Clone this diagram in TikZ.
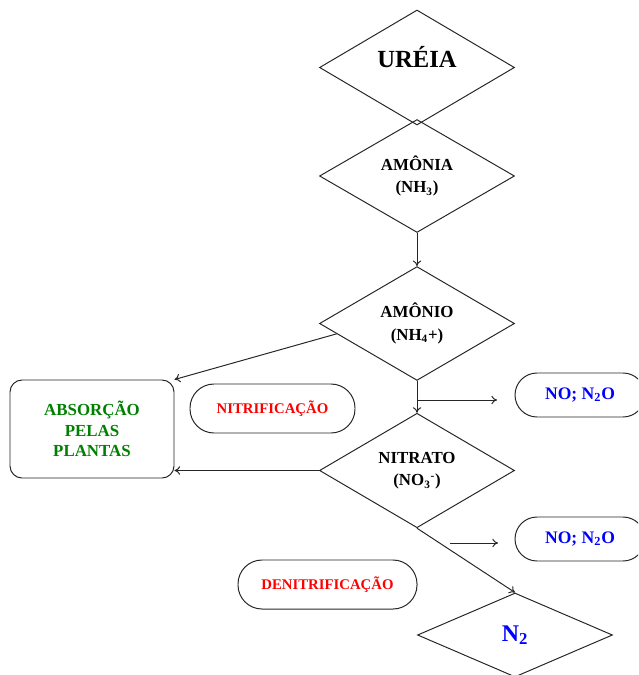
\documentclass[tikz,border=0pt]{standalone}
\usepackage{fontspec}
\setmainfont{Liberation Serif}
\usetikzlibrary{shapes.geometric,calc,arrows.meta}
\definecolor{verde}{RGB}{0,128,0}
\definecolor{vermelho}{RGB}{255,0,0}
\definecolor{azul}{RGB}{0,0,255}
\begin{document}
\begin{tikzpicture}[x=0.025cm,y=-0.025cm,line width=0.7pt,>={To[length=4pt,width=6pt]},subst/.style={shape=diamond,draw=black!85,inner sep=0pt,minimum width=\dw*\px,minimum height=113*\px,align=center,font=\bfseries\fontsize{12}{16}\selectfont},proc/.style={shape=rectangle,draw=black!85,rounded corners=0.6cm,inner sep=0pt,minimum height=49*\px,text=vermelho,font=\bfseries\fontsize{10.5}{12}\selectfont},gas/.style={proc,rounded corners=0.55cm,minimum width=130*\px,minimum height=44*\px,text=azul,font=\bfseries\fontsize{12.5}{14}\selectfont},planta/.style={shape=rectangle,draw=black!85,rounded corners=0.3cm,inner sep=0pt,minimum width=164*\px,minimum height=98*\px,align=center,text=verde,font=\bfseries\fontsize{12}{14.5}\selectfont}]
\def\px{0.025cm}
\def\dw{195}

\clip (0,0) rectangle (638,675);

% substancias
\node[subst,minimum height=115*\px] (ureia) at (417,67.5) {};
\node[font=\bfseries\fontsize{17.5}{20}\selectfont] (ureiaT) at (417,57) {URÉIA};
\node[subst,minimum height=112*\px] (amonia) at (417,176) {AMÔNIA\\(NH\textsubscript{3})};
\node[subst] (amonio) at (417,323.5) {AMÔNIO\\(NH\textsubscript{4}+)};
\node[subst] (nitrato) at (417,470.5) {NITRATO\\(NO\textsubscript{3}\textsuperscript{-})};
\node[subst,minimum height=84*\px,text=azul,font=\bfseries\fontsize{17}{20}\selectfont] (n2) at (515,635) {N\textsubscript{2}};

% caixas
\node[planta] (absorcao) at (92,429) {ABSORÇÃO\\PELAS\\PLANTAS};
\node[proc,minimum width=165*\px] (nitrif) at (272.5,408.5) {NITRIFICAÇÃO};
\node[proc,minimum width=179*\px] (denitrif) at (327.5,584.5) {DENITRIFICAÇÃO};
\node[gas] (gasA) at (580,395) {NO; N\textsubscript{2}O};
\node[gas] (gasB) at (580,539) {NO; N\textsubscript{2}O};

% setas
\coordinate (setaA) at (497,400);
\coordinate (setaBi) at (450,543);
\coordinate (setaBf) at (498,543);
\draw[->,black!85] (amonia.south) -- (amonio.north);
\draw[->,black!85] ($(amonio.west)!0.18!(amonio.south)$) -- (absorcao.north east);
\draw[->,black!85] (amonio.south) -- (nitrato.north);
\draw[->,black!85] (amonio.south |- setaA) -- (setaA);
\draw[->,black!85] (nitrato.west) -- (nitrato.west -| absorcao.east);
\draw[->,black!85] (setaBi) -- (setaBf);
\draw[->,black!85] (nitrato.south) -- (n2.north);
\end{tikzpicture}
\end{document}
